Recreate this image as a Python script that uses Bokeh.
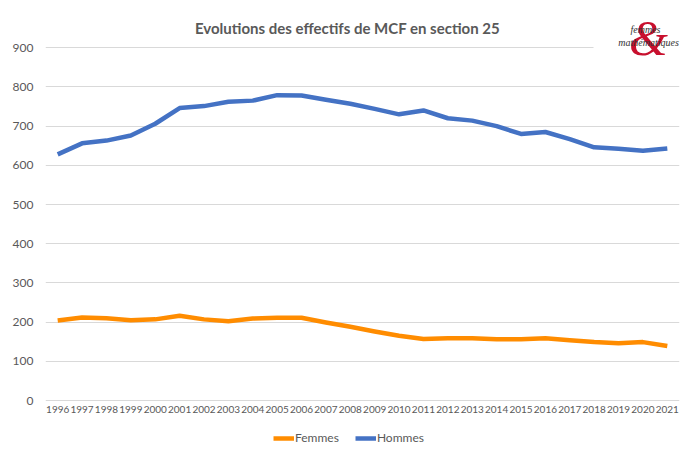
from bokeh.plotting import figure
from bokeh.models import FactorRange, Legend, LegendItem, Label, BoxAnnotation, FixedTicker, Range1d
from bokeh.embed import file_html
from bokeh.resources import INLINE

years = [str(y) for y in range(1996, 2022)]
femmes = [204, 212, 210, 205, 207, 216, 207, 202, 209, 211, 211, 199, 188, 176, 165, 157,
          159, 159, 156, 156, 159, 154, 149, 146, 149, 139]
hommes = [628, 656, 663, 676, 706, 746, 751, 762, 765, 779, 778, 767, 757, 744, 730, 740,
          720, 714, 700, 680, 685, 667, 646, 642, 637, 643]
y_ticks = [0, 100, 200, 300, 400, 500, 600, 700, 800, 900]

title_text = "Evolutions des effectifs de MCF en section 25"
FONT = "Lato"
GREY = "#595959"
ORANGE = "#FF8C00"
BLUE = "#4472C4"

p = figure(width=685, height=452, x_range=FactorRange(factors=years, range_padding=0),
           y_range=Range1d(-127.5, 1000), output_backend="svg", toolbar_location=None,
           min_border_left=45, min_border_right=6, min_border_top=8, min_border_bottom=2)

p.outline_line_color = None
p.xgrid.grid_line_color = None
p.ygrid.grid_line_color = "#d9d9d9"
p.ygrid.grid_line_width = 1
p.yaxis.ticker = FixedTicker(ticks=y_ticks)
p.xaxis.fixed_location = 0
for ax in (p.xaxis[0], p.yaxis[0]):
    ax.axis_line_color = None
    ax.major_tick_line_color = None
    ax.minor_tick_line_color = None
    ax.major_tick_out = 0
    ax.major_tick_in = 0
    ax.major_label_text_font = FONT
    ax.major_label_text_color = GREY
p.yaxis.major_label_text_font_size = "12px"
p.yaxis.major_label_standoff = 12
p.xaxis.major_label_text_font_size = "10px"
p.xaxis.major_label_standoff = 5

rf = p.line(years, femmes, line_color=ORANGE, line_width=4.5, line_join="round")
rh = p.line(years, hommes, line_color=BLUE, line_width=4.5, line_join="round")

# title
p.add_layout(Label(x=302, y=423, x_units="screen", y_units="screen", text=title_text,
                   text_font=FONT, text_font_style="bold", text_font_size="15px",
                   text_color=GREY, text_align="center", text_baseline="middle"))

legend = Legend(items=[LegendItem(label="Femmes", renderers=[rf]),
                       LegendItem(label="Hommes", renderers=[rh])],
                orientation="horizontal", location=(228, 5),
                label_text_font=FONT, label_text_font_size="12px", label_text_color=GREY,
                glyph_width=21, glyph_height=10, label_standoff=1, spacing=16,
                border_line_color=None, background_fill_alpha=0, padding=2, margin=0)
p.add_layout(legend)

# logo "femmes & mathématiques"
p.add_layout(BoxAnnotation(left=548, right=640, bottom=393, top=412,
                           left_units="screen", right_units="screen",
                           bottom_units="screen", top_units="screen",
                           fill_color="white", fill_alpha=1, line_color=None, level="underlay"))
p.add_layout(Label(x=603, y=413, x_units="screen", y_units="screen", text="&",
                   text_font="Liberation Serif", text_font_style="italic", text_font_size="50px",
                   text_color="#C8102E", text_align="center", text_baseline="middle"))
p.add_layout(Label(x=600, y=421, x_units="screen", y_units="screen", text="femmes",
                   text_font="Liberation Serif", text_font_style="italic", text_font_size="10px",
                   text_color="#333333", text_align="center", text_baseline="middle"))
p.add_layout(Label(x=603, y=408, x_units="screen", y_units="screen", text="mathématiques",
                   text_font="Liberation Serif", text_font_style="italic", text_font_size="10px",
                   text_color="#333333", text_align="center", text_baseline="middle"))

open("out.html", "w").write(file_html(p, INLINE))
